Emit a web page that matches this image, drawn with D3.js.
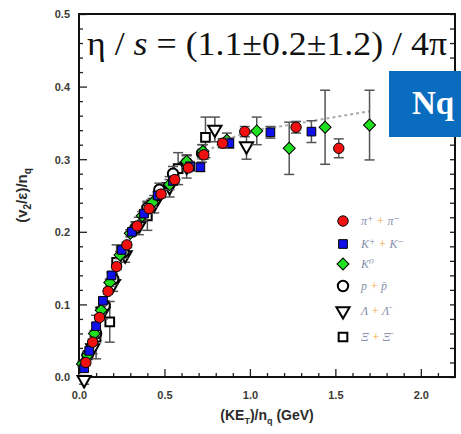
<!DOCTYPE html>
<html>
<head>
<meta charset="utf-8">
<script src="https://cdn.jsdelivr.net/npm/d3@7"></script>
<style>
  body { margin: 0; background: #fff; }
</style>
</head>
<body>
<div id="chart"></div>
<script>
// values: KE_T/n_q (GeV), (v2/eps)/n_q and error
var piKE  = [0.04, 0.08, 0.12, 0.17, 0.22, 0.28, 0.34, 0.41, 0.48, 0.56, 0.64, 0.73, 0.84, 0.97, 1.27, 1.52];
var piV   = [0.020, 0.048, 0.082, 0.118, 0.152, 0.182, 0.208, 0.232, 0.252, 0.272, 0.288, 0.306, 0.322, 0.338, 0.344, 0.315];
var piErr = [0.004, 0.004, 0.004, 0.004, 0.004, 0.004, 0.004, 0.004, 0.005, 0.005, 0.005, 0.006, 0.006, 0.007, 0.008, 0.013];

var kKE  = [0.03, 0.06, 0.10, 0.14, 0.19, 0.25, 0.31, 0.38, 0.46, 0.55, 0.65, 0.71, 0.88, 1.12, 1.36];
var kV   = [0.012, 0.036, 0.070, 0.105, 0.140, 0.175, 0.200, 0.225, 0.250, 0.270, 0.290, 0.289, 0.322, 0.337, 0.338];
var kErr = [0.004, 0.004, 0.004, 0.004, 0.004, 0.004, 0.004, 0.005, 0.005, 0.005, 0.006, 0.006, 0.007, 0.008, 0.015];

var k0KE  = [0.02, 0.05, 0.09, 0.13, 0.18, 0.24, 0.30, 0.37, 0.43, 0.53, 0.63, 0.725, 0.865, 1.04, 1.23, 1.44, 1.70];
var k0V   = [0.018, 0.030, 0.060, 0.092, 0.130, 0.168, 0.198, 0.222, 0.240, 0.265, 0.297, 0.311, 0.326, 0.339, 0.315, 0.344, 0.347];
var k0Err = [0.004, 0.004, 0.004, 0.005, 0.005, 0.005, 0.005, 0.006, 0.006, 0.007, 0.008, 0.009, 0.010, 0.019, 0.036, 0.051, 0.048];

var pKE  = [0.05, 0.10, 0.15, 0.20, 0.26, 0.33, 0.40, 0.47, 0.55, 0.63, 0.72];
var pV   = [0.030, 0.060, 0.098, 0.135, 0.172, 0.205, 0.233, 0.258, 0.280, 0.295, 0.308];
var pErr = [0.006, 0.006, 0.007, 0.007, 0.008, 0.008, 0.008, 0.009, 0.010, 0.010, 0.012];

var lamKE  = [0.03, 0.08, 0.14, 0.20, 0.27, 0.35, 0.44, 0.53, 0.63, 0.795, 0.98];
var lamV   = [-0.004, 0.040, 0.090, 0.128, 0.168, 0.208, 0.238, 0.262, 0.290, 0.341, 0.318];
var lamErr = [0.006, 0.008, 0.010, 0.010, 0.010, 0.012, 0.012, 0.014, 0.016, 0.017, 0.018];

var xiKE  = [0.10, 0.18, 0.22, 0.40, 0.58, 0.74];
var xiV   = [0.055, 0.076, 0.158, 0.222, 0.287, 0.330];
var xiErr = [0.030, 0.028, 0.024, 0.020, 0.022, 0.028];

// dotted grey guide through the points
var fitKE = [0.0, 0.1, 0.2, 0.3, 0.4, 0.5, 0.6, 0.7, 0.8, 0.9, 1.0, 1.2, 1.4, 1.7];
var fitV  = [0.0, 0.065, 0.135, 0.190, 0.230, 0.258, 0.282, 0.302, 0.318, 0.330, 0.338, 0.346, 0.354, 0.366];

var yTicks = [0.0, 0.1, 0.2, 0.3, 0.4, 0.5];
var xTicks = [0.0, 0.5, 1.0, 1.5, 2.0];

var series = [
  { name: "xi",  ke: xiKE,  v: xiV,  err: xiErr,  shape: "square",   fill: "#fff",    label: ["Ξ", " + ", "Ξ̄"] },
  { name: "lam", ke: lamKE, v: lamV, err: lamErr, shape: "triangle", fill: "#fff",    label: ["Λ", " + ", "Λ̄"] },
  { name: "p",   ke: pKE,   v: pV,   err: pErr,   shape: "circle",   fill: "#fff",    label: ["p", " + ", "p̄"] },
  { name: "k0",  ke: k0KE,  v: k0V,  err: k0Err,  shape: "diamond",  fill: "#1fe01f", label: ["K⁰", "", ""] },
  { name: "k",   ke: kKE,   v: kV,   err: kErr,   shape: "square",   fill: "#1010e8", label: ["K⁺", " + ", "K⁻"] },
  { name: "pi",  ke: piKE,  v: piV,  err: piErr,  shape: "circle",   fill: "#f01010", label: ["π⁺", " + ", "π⁻"] }
];
var legendOrder = ["pi", "k", "k0", "p", "lam", "xi"];

var svgWidth = 461, svgHeight = 434;
var plot = { left: 79, right: 455, top: 14, bottom: 377 };

var svg = d3.select("#chart").append("svg")
  .attr("width", svgWidth)
  .attr("height", svgHeight)
  .style("font-family", "Arial, 'Liberation Sans', sans-serif");

var x = d3.scaleLinear().domain([0, 2.2]).range([plot.left, plot.right]);
var y = d3.scaleLinear().domain([0, 0.5]).range([plot.bottom, plot.top]);

// minor ticks
var yMinor = d3.range(0, 0.501, 0.02).filter(function(d) { return Math.abs(d * 10 - Math.round(d * 10)) > 1e-6; });
var xMinor = d3.range(0.1, 2.2, 0.1).filter(function(d) { return Math.abs(d * 2 - Math.round(d * 2)) > 1e-6; });

svg.append("g").attr("transform", `translate(${plot.left},0)`)
  .call(d3.axisLeft(y).tickValues(yMinor).tickSizeInner(-4).tickSizeOuter(0).tickFormat(""));
svg.append("g").attr("transform", `translate(${plot.right},0)`)
  .call(d3.axisRight(y).tickValues(yMinor.concat(yTicks)).tickSizeInner(-5).tickSizeOuter(0).tickFormat(""));
svg.append("g").attr("transform", `translate(0,${plot.bottom})`)
  .call(d3.axisBottom(x).tickValues(xMinor).tickSizeInner(-4).tickSizeOuter(0).tickFormat(""));

var yAxis = svg.append("g").attr("transform", `translate(${plot.left},0)`)
  .call(d3.axisLeft(y).tickValues(yTicks).tickSizeInner(-8).tickSizeOuter(0).tickFormat(d3.format(".1f")));
yAxis.selectAll("text").attr("x", -9).attr("dy", "0.35em");

var xAxis = svg.append("g").attr("transform", `translate(0,${plot.bottom})`)
  .call(d3.axisBottom(x).tickValues(xTicks).tickSizeInner(-8).tickSizeOuter(0).tickFormat(d3.format(".1f")));
xAxis.selectAll("text").attr("y", 14);

svg.selectAll(".tick text")
  .style("font-size", "11px")
  .style("font-weight", "bold")
  .style("fill", "#3b3b33");
svg.selectAll(".domain").remove();
svg.selectAll(".tick line").attr("stroke", "#222").attr("stroke-width", 1.3);

// frame
svg.append("rect")
  .attr("x", plot.left).attr("y", plot.top)
  .attr("width", plot.right - plot.left).attr("height", plot.bottom - plot.top)
  .attr("fill", "none").attr("stroke", "#111").attr("stroke-width", 2);

// guide line
svg.append("path")
  .datum(d3.zip(fitKE, fitV))
  .attr("fill", "none")
  .attr("stroke", "#aaa")
  .attr("stroke-width", 2)
  .attr("stroke-dasharray", "3,3")
  .attr("d", d3.line().curve(d3.curveMonotoneX).x(function(d) { return x(d[0]); }).y(function(d) { return y(d[1]); }));

function symbolFor(shape) {
  if (shape === "circle") return d3.symbol().type(d3.symbolCircle).size(85);
  if (shape === "square") return d3.symbol().type(d3.symbolSquare).size(75);
  if (shape === "diamond") return d3.symbol().type(d3.symbolSquare).size(72);
  return d3.symbol().type(d3.symbolTriangle).size(75);
}

function drawMarker(g, s, px, py) {
  var m = g.append("path")
    .attr("d", symbolFor(s.shape)())
    .attr("fill", s.fill)
    .attr("stroke", "#000")
    .attr("stroke-width", s.fill === "#fff" ? 2 : 1);
  var rot = s.shape === "triangle" ? " rotate(180)" : (s.shape === "diamond" ? " rotate(45)" : "");
  m.attr("transform", `translate(${px},${py})` + rot);
}

var marks = svg.append("g");
series.forEach(function(s) {
  var pts = d3.zip(s.ke, s.v, s.err);
  var g = marks.append("g").attr("class", "series-" + s.name);
  pts.forEach(function(d) {
    var cx = x(d[0]);
    var y1 = y(d[1] + d[2]), y2 = y(d[1] - d[2]);
    g.append("line").attr("x1", cx).attr("x2", cx).attr("y1", y1).attr("y2", y2)
      .attr("stroke", "#555").attr("stroke-width", 1.5);
    [y1, y2].forEach(function(yy) {
      g.append("line").attr("x1", cx - 5).attr("x2", cx + 5).attr("y1", yy).attr("y2", yy)
        .attr("stroke", "#555").attr("stroke-width", 1.5);
    });
    drawMarker(g, s, cx, y(d[1]));
  });
});

// legend
var legY = [221, 244, 264, 286, 311, 337];
var legend = svg.append("g");
legendOrder.forEach(function(name, i) {
  var s = series.find(function(t) { return t.name === name; });
  drawMarker(legend, s, 343, legY[i]);
  var t = legend.append("text")
    .attr("x", 361).attr("y", legY[i] + 4)
    .style("font-family", "'Liberation Serif', 'DejaVu Serif', serif")
    .style("font-style", "italic")
    .style("font-size", "12px");
  t.append("tspan").attr("fill", "#8790ad").text(s.label[0]);
  t.append("tspan").attr("fill", "#f0a840").text(s.label[1]);
  t.append("tspan").attr("fill", "#8790ad").text(s.label[2]);
});

// annotation
var ann = svg.append("text")
  .attr("x", 87).attr("y", 55)
  .attr("textLength", 360).attr("lengthAdjust", "spacingAndGlyphs")
  .style("font-family", "'Liberation Serif', 'Times New Roman', serif")
  .style("font-size", "33px")
  .attr("fill", "#111");
ann.append("tspan").text("η / ");
ann.append("tspan").style("font-style", "italic").text("s");
ann.append("tspan").text(" = (1.1±0.2±1.2) / 4π");

// blue banner
svg.append("rect")
  .attr("x", 389).attr("y", 71).attr("width", 80).attr("height", 66)
  .attr("fill", "#0a6cbf");
svg.append("text")
  .attr("x", 412).attr("y", 114)
  .style("font-family", "'Liberation Serif', 'Times New Roman', serif")
  .style("font-size", "33px")
  .style("font-weight", "bold")
  .attr("fill", "#fff")
  .text("Nq");

// axis titles
var yt = svg.append("text")
  .attr("transform", `translate(27,${(plot.top + plot.bottom) / 2}) rotate(-90)`)
  .attr("text-anchor", "middle")
  .style("font-size", "15px")
  .style("font-weight", "bold")
  .attr("fill", "#2b2b2b");
yt.append("tspan").text("(v");
yt.append("tspan").attr("dy", 4).style("font-size", "10px").text("2");
yt.append("tspan").attr("dy", -4).text("/ε)/n");
yt.append("tspan").attr("dy", 4).style("font-size", "10px").text("q");

var xt = svg.append("text")
  .attr("x", (plot.left + plot.right) / 2).attr("y", 420)
  .attr("text-anchor", "middle")
  .style("font-size", "14px")
  .style("font-weight", "bold")
  .attr("fill", "#2b2b2b");
xt.append("tspan").text("(KE");
xt.append("tspan").attr("dy", 4).style("font-size", "9px").text("T");
xt.append("tspan").attr("dy", -4).text(")/n");
xt.append("tspan").attr("dy", 4).style("font-size", "9px").text("q");
xt.append("tspan").attr("dy", -4).text(" (GeV)");
</script>
</body>
</html>
